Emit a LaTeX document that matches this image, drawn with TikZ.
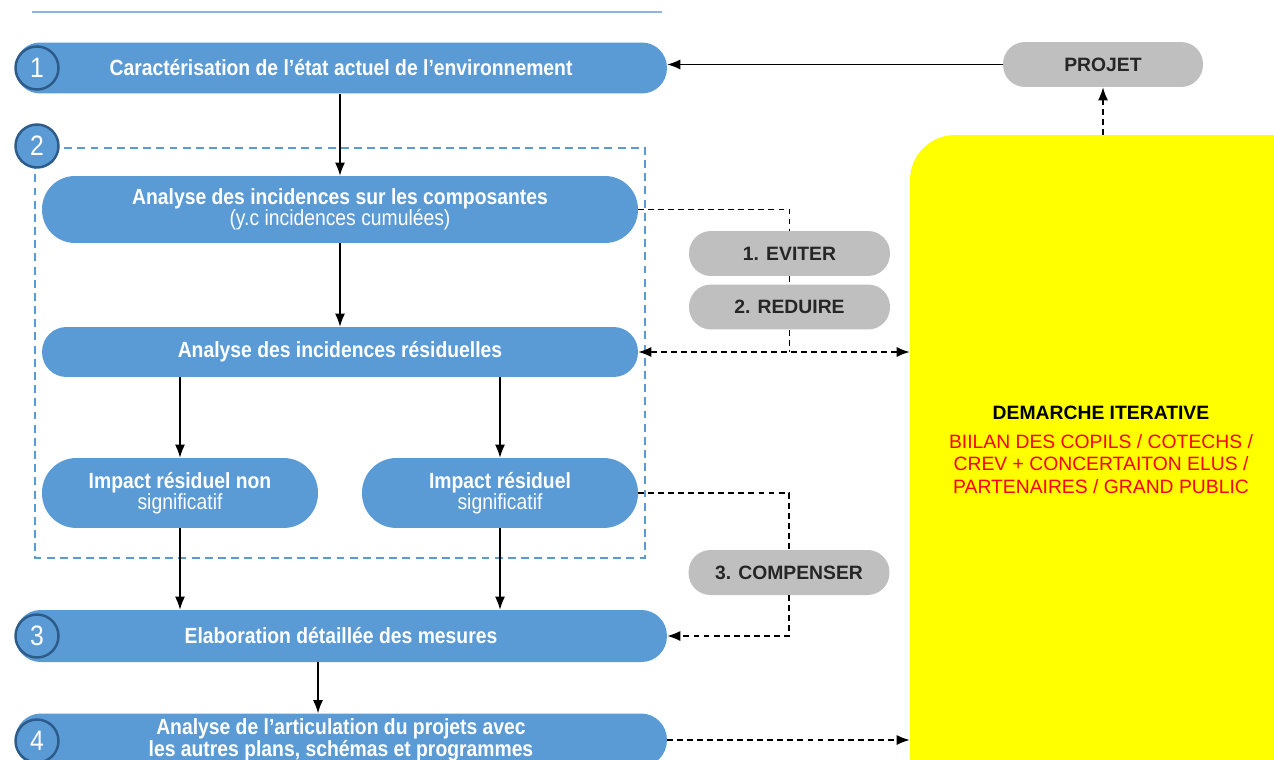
\documentclass[tikz,border=0pt]{standalone}
\usepackage{fontspec}
\setmainfont{Liberation Sans}
\newfontfamily\narrowfont[FakeStretch=0.88]{Liberation Sans}
\usetikzlibrary{positioning,arrows.meta}
\definecolor{stepblue}{HTML}{5B9BD5}
\definecolor{ringblue}{HTML}{2E5C8A}
\definecolor{pillgray}{HTML}{BFBFBF}
\definecolor{lineblue}{HTML}{8DB4E2}
\definecolor{iteryellow}{HTML}{FFFF00}
\begin{document}
\begin{tikzpicture}[x=0.02cm,y=-0.02cm,
  stepbox/.style={fill=stepblue,text=white,align=center,inner sep=0pt,font=\narrowfont\bfseries\fontsize{12.5}{12.2}\selectfont},
  numcirc/.style={circle,draw=ringblue,line width=1.4pt,fill=stepblue,minimum size=0.86cm,inner sep=0pt,text=white,font=\narrowfont\fontsize{16}{16}\selectfont},
  graybox/.style={fill=pillgray,rounded corners=0.44cm,minimum width=4.02cm,minimum height=0.9cm,inner sep=0pt,text=black!85,font=\bfseries\fontsize{11}{13}\selectfont},
  tip/.style={-{Latex[length=2.6mm,width=2mm]}},
  flow/.style={tip,line width=0.7pt},
  link/.style={dash pattern=on 3.4pt off 2.3pt,line width=0.75pt}]
\useasboundingbox (0,0) rectangle (1274,760);
\clip (0,0) rectangle (1274,760);
\draw[lineblue,line width=0.9pt] (32,12) -- (662,12);
% cadre de l'etape 2
\draw[stepblue,line width=1.5pt,dash pattern=on 4.5pt off 3pt] (35,148) rectangle (645,558);
% etapes
\node[stepbox,rounded corners=0.5cm,minimum width=13.04cm,minimum height=1.02cm] (etat) at (341,68) {Caractérisation de l’état actuel de l’environnement};
\node[stepbox,rounded corners=0.66cm,minimum width=11.92cm,minimum height=1.34cm] (compo) at (340,209.5) {Analyse des incidences sur les composantes\\{\mdseries (y.c incidences cumulées)}};
\node[stepbox,rounded corners=0.49cm,minimum width=11.92cm,minimum height=1.0cm] (resid) at (340,352) {Analyse des incidences résiduelles};
\node[stepbox,rounded corners=0.69cm,minimum width=5.52cm,minimum height=1.4cm] (nonsig) at (180,493) {Impact résiduel non\\{\mdseries significatif}};
\node[stepbox,rounded corners=0.69cm,minimum width=5.52cm,minimum height=1.4cm] (sig) at (500,493) {Impact résiduel\\{\mdseries significatif}};
\node[stepbox,rounded corners=0.51cm,minimum width=13.04cm,minimum height=1.04cm] (mesures) at (341,636) {Elaboration détaillée des mesures};
\node[stepbox,rounded corners=0.52cm,minimum width=13.04cm,minimum height=1.06cm] (articul) at (341,740) {Analyse de l’articulation du projets avec\\les autres plans, schémas et programmes};
% numeros
\node[numcirc] (n1) at (37,68) {1};
\node[numcirc] (n2) at (37,146) {2};
\node[numcirc] (n3) at (37,636) {3};
\node[numcirc] (n4) at (37,741) {4};
% colonne de droite
\node[graybox,minimum width=4cm] (projet) at (1103,64.5) {PROJET};
\node[graybox] (eviter) at (789.5,253.5) {1. EVITER};
\node[graybox] (reduire) at (789.5,307) {2. REDUIRE};
\node[graybox] (compens) at (789,572.5) {3. COMPENSER};
\node[fill=iteryellow,rounded corners=0.9cm,minimum width=8.2cm,minimum height=13.3cm] (iter) at (1115,467.5) {};
\node[align=center,font=\fontsize{11}{12.8}\selectfont] (iterlbl) at (1101,450) {\textbf{DEMARCHE ITERATIVE}\\[3.5pt]
  \textcolor{red}{BIILAN DES COPILS / COTECHS /}\\\textcolor{red}{CREV + CONCERTAITON ELUS /}\\\textcolor{red}{PARTENAIRES / GRAND PUBLIC}};
% liaisons
\draw[flow] (projet.west) -- (projet.west -| etat.east);
\draw[flow,link] (projet.south |- iter.north) -- (projet.south);
\draw[flow] (compo.north |- etat.south) -- (compo.north);
\draw[flow] (compo.south) -- (resid.north);
\draw[flow] (resid.south -| nonsig) -- (nonsig.north);
\draw[flow] (resid.south -| sig) -- (sig.north);
\draw[flow] (nonsig.south) -- (nonsig.south |- mesures.north);
\draw[flow] (sig.south) -- (sig.south |- mesures.north);
\coordinate (m3) at (318,636);
\draw[flow] (m3 |- mesures.south) -- (m3 |- articul.north);
\draw[link] (compo.east) -| (eviter.north);
\draw[link] (eviter.south) -- (reduire.north);
\draw[link] (reduire.south) -- (reduire.south |- resid.east);
\draw[link,{Latex[length=2.6mm,width=2mm]}-{Latex[length=2.6mm,width=2mm]}] (resid.east) -- (resid.east -| iter.west);
\draw[link] (sig.east) -| (compens.north);
\draw[link,tip] (compens.south) |- (mesures.east);
\draw[link,tip] (articul.east) -- (articul.east -| iter.west);
\end{tikzpicture}
\end{document}
